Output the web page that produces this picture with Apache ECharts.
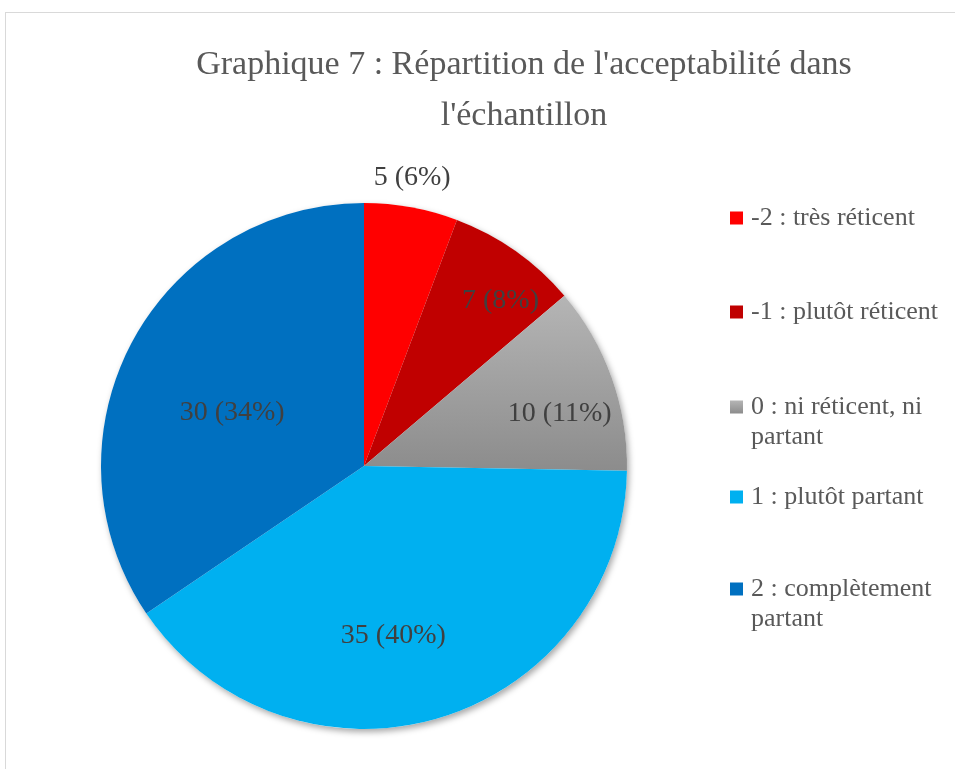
<!DOCTYPE html>
<html>
<head>
<meta charset="utf-8">
<script src="https://cdn.jsdelivr.net/npm/echarts@6/dist/echarts.min.js"></script>
<style>
  html, body { margin: 0; padding: 0; background: #fff; }
  #chart { width: 955px; height: 769px; position: absolute; left: 0; top: 0; }
  #frame { position: absolute; left: 5px; top: 12px; width: 960px; height: 770px;
           border-left: 1px solid #d9d9d9; border-top: 1px solid #d9d9d9; pointer-events: none; }
</style>
</head>
<body>
<div id="chart"></div>
<div id="frame"></div>
<script>
// ---- data ----
const categories = [
  "-2 : très réticent",
  "-1 : plutôt réticent",
  "0 : ni réticent, ni\npartant",
  "1 : plutôt partant",
  "2 : complètement\npartant"
];
const values = [5, 7, 10, 35, 30];
const percentLabels = ["6%", "8%", "11%", "40%", "34%"];
const titleText = "Graphique 7 : Répartition de l'acceptabilité dans\nl'échantillon";

// ---- styling ----
const sliceColors = [
  "#FF0000",
  "#C00000",
  { type: "linear", x: 0, y: 0, x2: 0, y2: 1,
    colorStops: [{ offset: 0, color: "#B5B5B5" }, { offset: 1, color: "#8C8C8C" }] },
  "#00B0F0",
  "#0070C0"
];
const labelOffsets = [[24, -156], [59, -55], [69, -7], [-9, 41], [-13, 10]];
const legendCentersY = [218, 312, 407, 497, 589];

const serif = "'Liberation Serif', 'DejaVu Serif', serif";

const data = categories.map((name, i) => ({
  name: name,
  value: values[i],
  itemStyle: { color: sliceColors[i] },
  label: { offset: labelOffsets[i] }
}));

const legends = categories.map((name, i) => {
  const multi = name.indexOf("\n") >= 0;
  return {
    data: [name],
    orient: "vertical",
    left: 730,
    top: legendCentersY[i] - (multi ? 45 : 15),
    padding: 0,
    icon: "rect",
    itemWidth: 13,
    itemHeight: 13,
    selectedMode: false,
    formatter: function (n) { return n.indexOf("\n") >= 0 ? "\n" + n : n; },
    textStyle: {
      fontFamily: serif,
      fontSize: 26,
      color: "#595959",
      lineHeight: 30,
      padding: [0, 0, 0, 3]
    }
  };
});

const chart = echarts.init(document.getElementById("chart"), null, { renderer: "canvas" });
chart.setOption({
  backgroundColor: "#ffffff",
  animation: false,
  title: {
    text: titleText,
    left: 519,
    textAlign: "center",
    top: 35,
    textStyle: {
      fontFamily: serif,
      fontSize: 34,
      fontWeight: "normal",
      color: "#595959",
      lineHeight: 51
    }
  },
  legend: legends,
  series: [
    {
      // soft drop shadow behind the pie
      type: "pie",
      silent: true,
      z: 1,
      center: [364, 466],
      radius: 263,
      label: { show: false },
      labelLine: { show: false },
      data: [{ value: 1, name: "" }],
      itemStyle: {
        color: "#ffffff",
        shadowColor: "rgba(0,0,0,0.35)",
        shadowBlur: 6,
        shadowOffsetX: 2,
        shadowOffsetY: 3
      },
      emphasis: { disabled: true },
      tooltip: { show: false }
    },
    {
      type: "pie",
      z: 2,
      center: [364, 466],
      radius: 263,
      startAngle: 90,
      clockwise: true,
      avoidLabelOverlap: false,
      data: data,
      label: {
        show: true,
        position: "inside",
        formatter: function (p) { return p.value + " (" + percentLabels[p.dataIndex] + ")"; },
        fontFamily: serif,
        fontSize: 28,
        color: "#404040"
      },
      labelLine: { show: false },
      emphasis: { disabled: true }
    }
  ]
});
</script>
</body>
</html>
